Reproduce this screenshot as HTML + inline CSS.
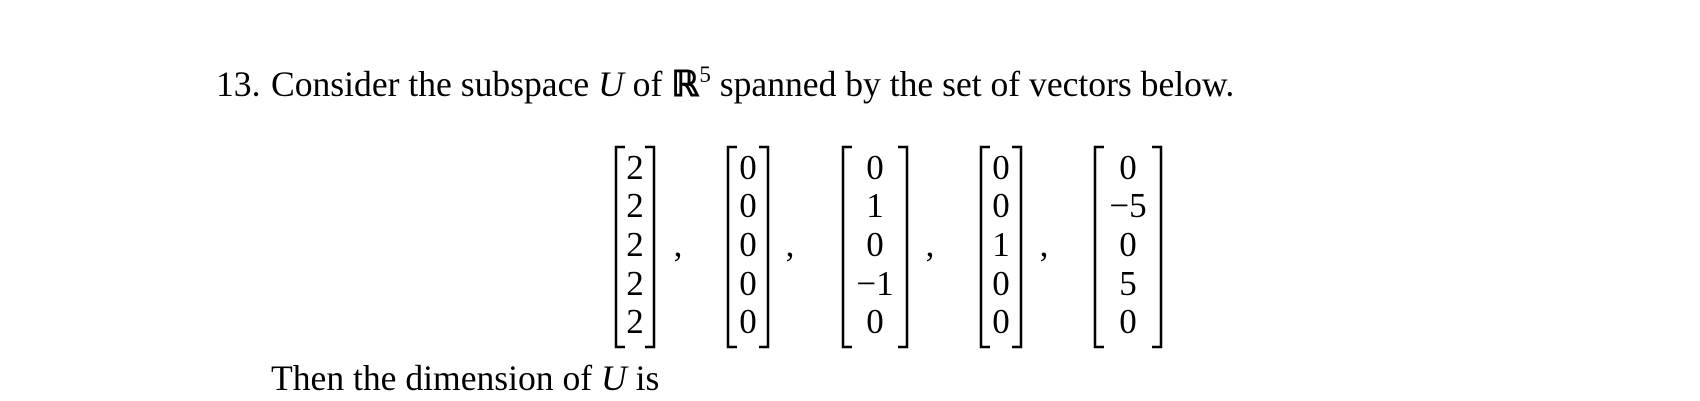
<!DOCTYPE html>
<html><head><meta charset="utf-8"><style>
html,body{margin:0;padding:0;background:#fff;}
svg{display:block;}
text{font-family:"Liberation Serif",serif;fill:#000;}
</style></head><body>
<svg width="1700" height="401" viewBox="0 0 1700 401">
<g font-size="35.6">
<text x="216" y="96">13.</text>
<text x="271" y="96">Consider the subspace <tspan font-style="italic">U</tspan> of <tspan font-weight="bold">ℝ</tspan><tspan font-size="23" dy="-14">5</tspan><tspan dy="14"> spanned by the set of vectors below.</tspan></text>
</g>
<g id="vecs" font-size="35" text-anchor="middle"></g>
<text x="271" y="390" font-size="35.6">Then the dimension of <tspan font-style="italic">U</tspan> is</text>
</svg>
<script>
const vectors=[[2,2,2,2,2],[0,0,0,0,0],[0,1,0,-1,0],[0,0,1,0,0],[0,-5,0,5,0]];
const lefts=[616,728,843,981,1095];
const rights=[654,768,907,1021,1161];
const commas=[678,790,930,1044];
const rowY=[179,217,256,295,333];
const g=document.getElementById('vecs');
const NS='http://www.w3.org/2000/svg';
vectors.forEach((v,i)=>{
  const L=lefts[i],R=rights[i];
  const p=document.createElementNS(NS,'path');
  p.setAttribute('d',`M${L+9},147 H${L} V347 H${L+9} M${R-9},147 H${R} V347 H${R-9}`);
  p.setAttribute('stroke','#000');p.setAttribute('stroke-width','2.5');p.setAttribute('fill','none');
  
  
  g.appendChild(p);
  v.forEach((n,j)=>{
    const t=document.createElementNS(NS,'text');
    t.setAttribute('x',(L+R)/2);
    t.setAttribute('y',rowY[j]);
    t.textContent=n<0?'\u2212'+(-n):String(n);
    
    
    g.appendChild(t);
  });
  if(i<commas.length){
    const c=document.createElementNS(NS,'text');
    c.setAttribute('x',commas[i]);c.setAttribute('y',256);
    c.textContent=',';
    
    
    g.appendChild(c);
  }
});
</script>
</body></html>
